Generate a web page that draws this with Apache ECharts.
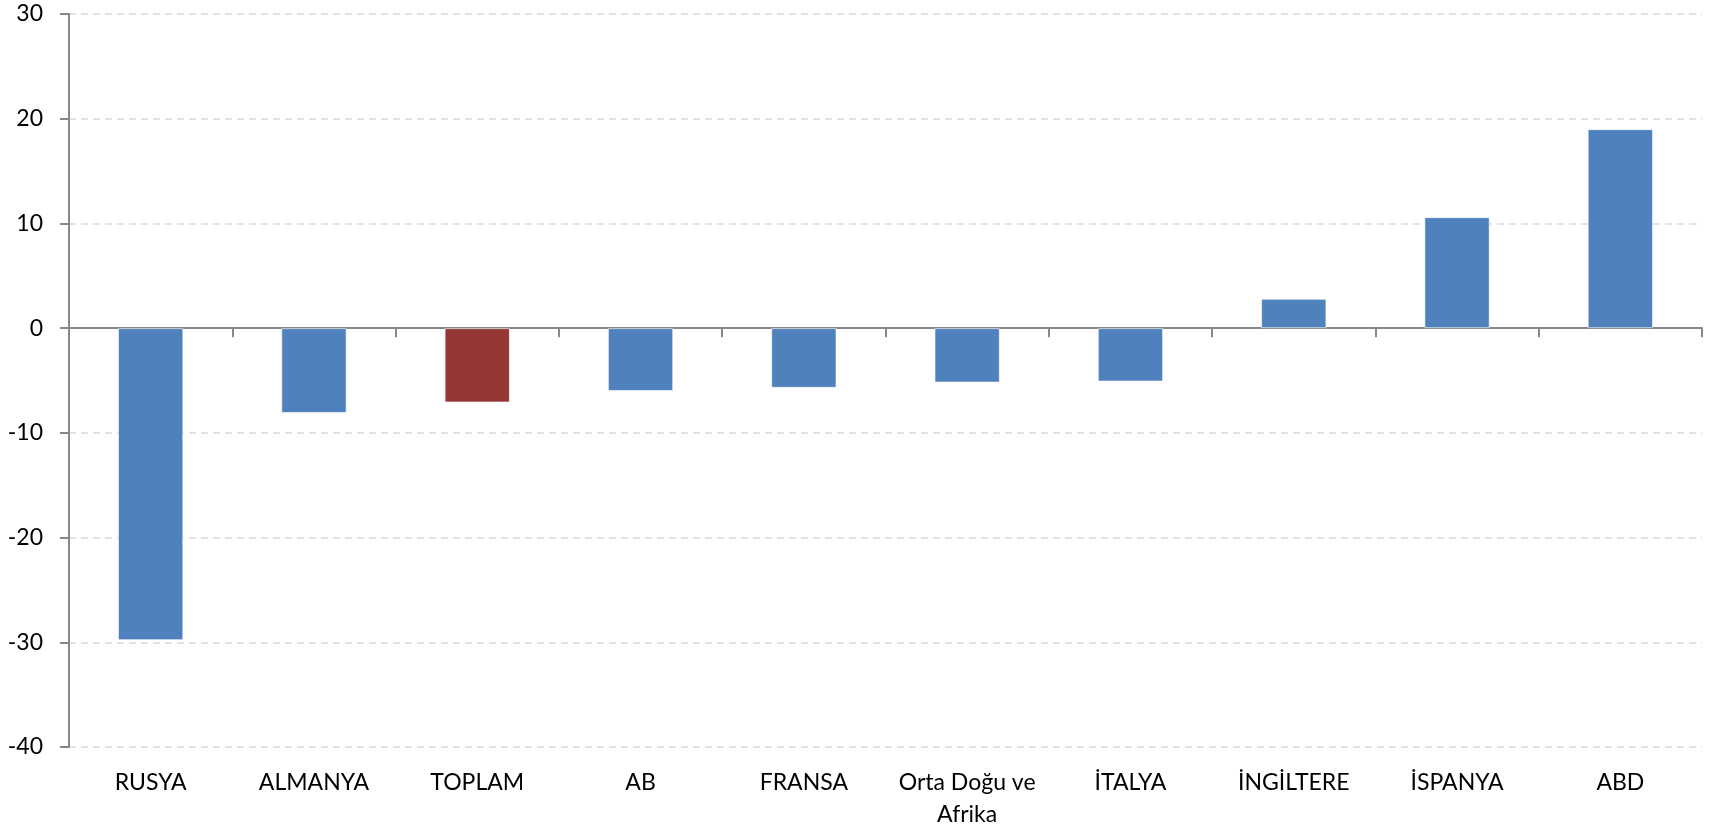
<!DOCTYPE html>
<html>
<head>
<meta charset="utf-8">
<script src="https://cdn.jsdelivr.net/npm/echarts@6/dist/echarts.min.js"></script>
<style>
html,body{margin:0;padding:0;background:#fff;}
#chart{width:1713px;height:831px;}
</style>
</head>
<body>
<div id="chart"></div>
<script>
const categories = ["RUSYA", "ALMANYA", "TOPLAM", "AB", "FRANSA", "Orta Doğu ve\nAfrika", "İTALYA", "İNGİLTERE", "İSPANYA", "ABD"];
const values = [-29.8, -8.1, -7.1, -6.0, -5.7, -5.2, -5.1, 2.8, 10.6, 19.0];
const highlightCategory = "TOPLAM";
const yMin = -40, yMax = 30, yStep = 10;

const blue = "#4F81BD", red = "#953735";
const font = "Lato, 'Open Sans', sans-serif";

const chart = echarts.init(document.getElementById('chart'));
chart.setOption({
  animation: false,
  backgroundColor: '#fff',
  grid: { left: 69, right: 11, top: 14, bottom: 84, containLabel: false },
  xAxis: [
    {
      type: 'category',
      data: categories,
      position: 'bottom',
      axisLine: { show: false, onZero: false },
      axisTick: { show: false },
      splitLine: { show: false },
      axisLabel: {
        interval: 0,
        margin: 20,
        color: '#000',
        fontFamily: font,
        fontSize: 23,
        lineHeight: 32,
        verticalAlign: 'top'
      }
    },
    {
      type: 'category',
      data: categories,
      position: 'bottom',
      axisLine: { show: true, onZero: true, lineStyle: { color: '#888', width: 2 } },
      axisTick: { show: true, length: 9, inside: false, lineStyle: { color: '#888', width: 2 } },
      axisLabel: { show: false },
      splitLine: { show: false }
    }
  ],
  yAxis: {
    type: 'value',
    min: yMin, max: yMax, interval: yStep,
    axisLine: { show: true, lineStyle: { color: '#888', width: 2 } },
    axisTick: { show: true, length: 9, lineStyle: { color: '#888', width: 2 } },
    splitLine: { show: true, lineStyle: { color: '#d9d9d9', width: 1.5, type: [7, 5] } },
    axisLabel: { margin: 26, color: '#000', fontFamily: font, fontSize: 23 }
  },
  series: [{
    type: 'bar',
    xAxisIndex: 0,
    barCategoryGap: '60%',
    data: values.map((v, i) => ({
      value: v,
      itemStyle: { color: categories[i] === highlightCategory ? red : blue }
    })),
    itemStyle: { borderColor: 'rgba(255,255,255,0.6)', borderWidth: 1 }
  }]
});
</script>
</body>
</html>
